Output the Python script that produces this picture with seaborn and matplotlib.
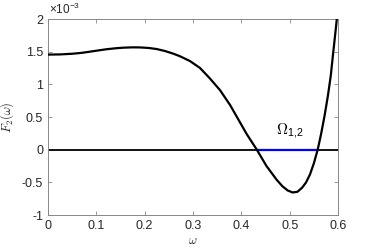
import numpy as np
import pandas as pd
import seaborn as sns
import matplotlib
matplotlib.use("Agg")
import matplotlib.pyplot as plt
from matplotlib.ticker import FuncFormatter

# data (F2 in units of 1e-3)
omega = [0.0, 0.025, 0.05, 0.07, 0.087, 0.105, 0.121, 0.14, 0.156, 0.175, 0.19, 0.208,
         0.225, 0.242, 0.259, 0.273, 0.294, 0.3145, 0.335, 0.356, 0.377, 0.394,
         0.411, 0.432, 0.452, 0.473, 0.485, 0.496, 0.506, 0.516, 0.526, 0.534,
         0.542, 0.550, 0.558, 0.565, 0.572, 0.579, 0.585, 0.590, 0.594, 0.598]
F2 = [1.455, 1.458, 1.468, 1.482, 1.50, 1.52, 1.537, 1.552, 1.561, 1.566, 1.565, 1.557,
      1.54, 1.51, 1.47, 1.43, 1.355, 1.25, 1.09, 0.91, 0.68, 0.46,
      0.24, 0.0, -0.25, -0.46, -0.56, -0.625, -0.655, -0.645, -0.58, -0.50,
      -0.38, -0.21, 0.0, 0.24, 0.51, 0.82, 1.13, 1.48, 1.75, 2.03]
omega_interval = [0.432, 0.558]
xticks = [0, 0.1, 0.2, 0.3, 0.4, 0.5, 0.6]
yticks = [-1, -0.5, 0, 0.5, 1, 1.5, 2]

sns.set_style("white")
plt.rcParams['font.family'] = ['Liberation Sans', 'DejaVu Sans']
plt.rcParams['mathtext.fontset'] = 'cm'

fig = plt.figure(figsize=(3.74, 2.49), dpi=100)
ax = fig.add_axes([48/374, 1 - 215/249, 290/374, 196/249])

df = pd.DataFrame({'omega': omega, 'F2': F2})
ax.axhline(0, color='black', lw=1.3, zorder=1)
ax.plot(omega_interval, [0, 0], color='blue', lw=1.6, zorder=2)
sns.lineplot(data=df, x='omega', y='F2', color='black', lw=1.6, ax=ax, zorder=3)
for l in ax.lines:
    l.set_solid_joinstyle('round')
    l.set_solid_capstyle('round')

ax.set_xlim(0, 0.6)
ax.set_ylim(-1, 2)
ax.set_xticks(xticks)
ax.set_yticks(yticks)
fmt = FuncFormatter(lambda v, p: '%g' % v)
ax.xaxis.set_major_formatter(fmt)
ax.yaxis.set_major_formatter(fmt)

gray = '#262626'
for s in ax.spines.values():
    s.set_color('#888888')
    s.set_linewidth(0.7)
    s.set_visible(True)
ax.tick_params(direction='in', length=3, width=0.6, color='#888888',
               labelsize=9, labelcolor=gray, top=True, right=True,
               left=True, bottom=True)

ax.set_xlabel(r'$\omega$', fontsize=9, color=gray, labelpad=2)
ax.set_ylabel(r'$F_2(\omega)$', fontsize=9, color=gray, labelpad=4)
ax.text(0.005, 1.008, r'$\mathregular{\times10^{-3}}$', transform=ax.transAxes, fontsize=8.5,
        color=gray, ha='left', va='bottom')
ax.text(0.5, 0.13, r'$\Omega_{\mathregular{1{,}2}}$', fontsize=11, color='black',
        ha='center', va='bottom')

fig.savefig('out.png', dpi=100)
